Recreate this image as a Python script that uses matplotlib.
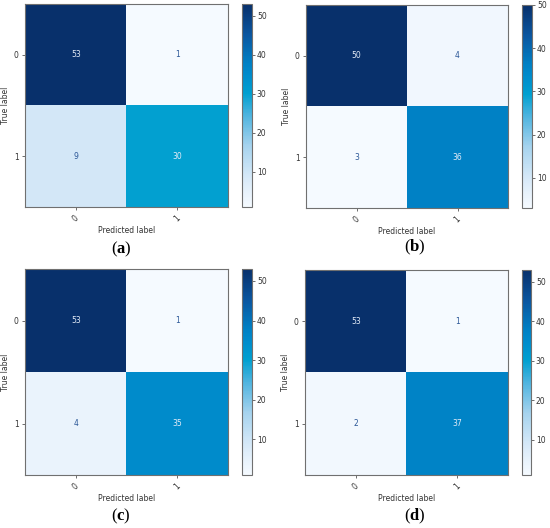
import numpy as np
import matplotlib
matplotlib.use('Agg')
import matplotlib.pyplot as plt
from matplotlib.colors import LinearSegmentedColormap

# confusion matrices for the four models
cm_a = [[53, 1], [9, 30]]
cm_b = [[50, 4], [3, 36]]
cm_c = [[53, 1], [4, 35]]
cm_d = [[53, 1], [2, 37]]
tick_labels = ['0', '1']
panel_names = ['a', 'b', 'c', 'd']
cbar_ticks = [10, 20, 30, 40, 50]

# blue map (more saturated than plain Blues)
cmap = LinearSegmentedColormap.from_list('blues2', [
    (0.00, '#f5faff'),
    (0.08, '#e6f1fb'),
    (0.16, '#d2e7f7'),
    (0.30, '#a6d3ee'),
    (0.45, '#4fb4df'),
    (0.56, '#00a0d0'),
    (0.65, '#008ccc'),
    (0.71, '#0080c4'),
    (0.85, '#0a56a0'),
    (1.00, '#08306b'),
])

plt.rcParams['mathtext.fontset'] = 'custom'
plt.rcParams['mathtext.bf'] = 'Liberation Serif:bold'
plt.rcParams['mathtext.rm'] = 'Liberation Serif'

W, H = 550, 528
fig = plt.figure(figsize=(W / 100, H / 100), dpi=100)


def px(x0, y0, x1, y1):
    # pixel box (top-left origin) -> figure fraction
    return [x0 / W, 1 - y1 / H, (x1 - x0) / W, (y1 - y0) / H]


# (axes box, colorbar box, label position)
boxes = [
    ((25, 4, 228, 207), (242, 4, 252, 207), (121, 249)),
    ((306, 5, 508, 208), (522, 5, 532, 208), (415, 247)),
    ((25, 269, 228, 475), (242, 269, 252, 475), (121, 516)),
    ((305, 270, 508, 475), (522, 270, 531, 475), (415, 516)),
]

edge = '#707070'
for cm, name, (abox, cbox, lpos) in zip([cm_a, cm_b, cm_c, cm_d], panel_names, boxes):
    cm = np.array(cm)
    ax = fig.add_axes(px(*abox))
    cax = fig.add_axes(px(*cbox))
    im = ax.imshow(cm, interpolation='nearest', cmap=cmap, aspect='auto')
    cb = fig.colorbar(im, cax=cax)
    cb.set_ticks(cbar_ticks)
    cb.ax.tick_params(labelsize=5.5, length=2, width=0.5, pad=1.5, colors='#333333')
    cb.outline.set_edgecolor(edge)
    cb.outline.set_linewidth(0.8)

    thresh = cm.max() / 2.
    for i in range(2):
        for j in range(2):
            ax.text(j, i, str(cm[i, j]), ha='center', va='center', fontsize=5.5,
                    color='#e4ecf8' if cm[i, j] > thresh else '#2b5797')

    ax.set_xticks(range(2))
    ax.set_yticks(range(2))
    ax.set_xticklabels(tick_labels, rotation=45)
    ax.set_yticklabels(tick_labels)
    ax.tick_params(labelsize=5.5, length=2.5, width=0.5, pad=2, colors='#333333')
    ax.set_xlabel('Predicted label', fontsize=5.5, labelpad=2, color='#333333')
    ax.set_ylabel('True label', fontsize=5.5, labelpad=3, color='#333333')
    for s in ax.spines.values():
        s.set_edgecolor(edge)
        s.set_linewidth(0.8)

    fig.text(lpos[0] / W, 1 - lpos[1] / H, r'($\mathbf{%s}$)' % name,
             ha='center', va='center', fontsize=12, family='Liberation Serif')

fig.savefig('out.png', dpi=100)
